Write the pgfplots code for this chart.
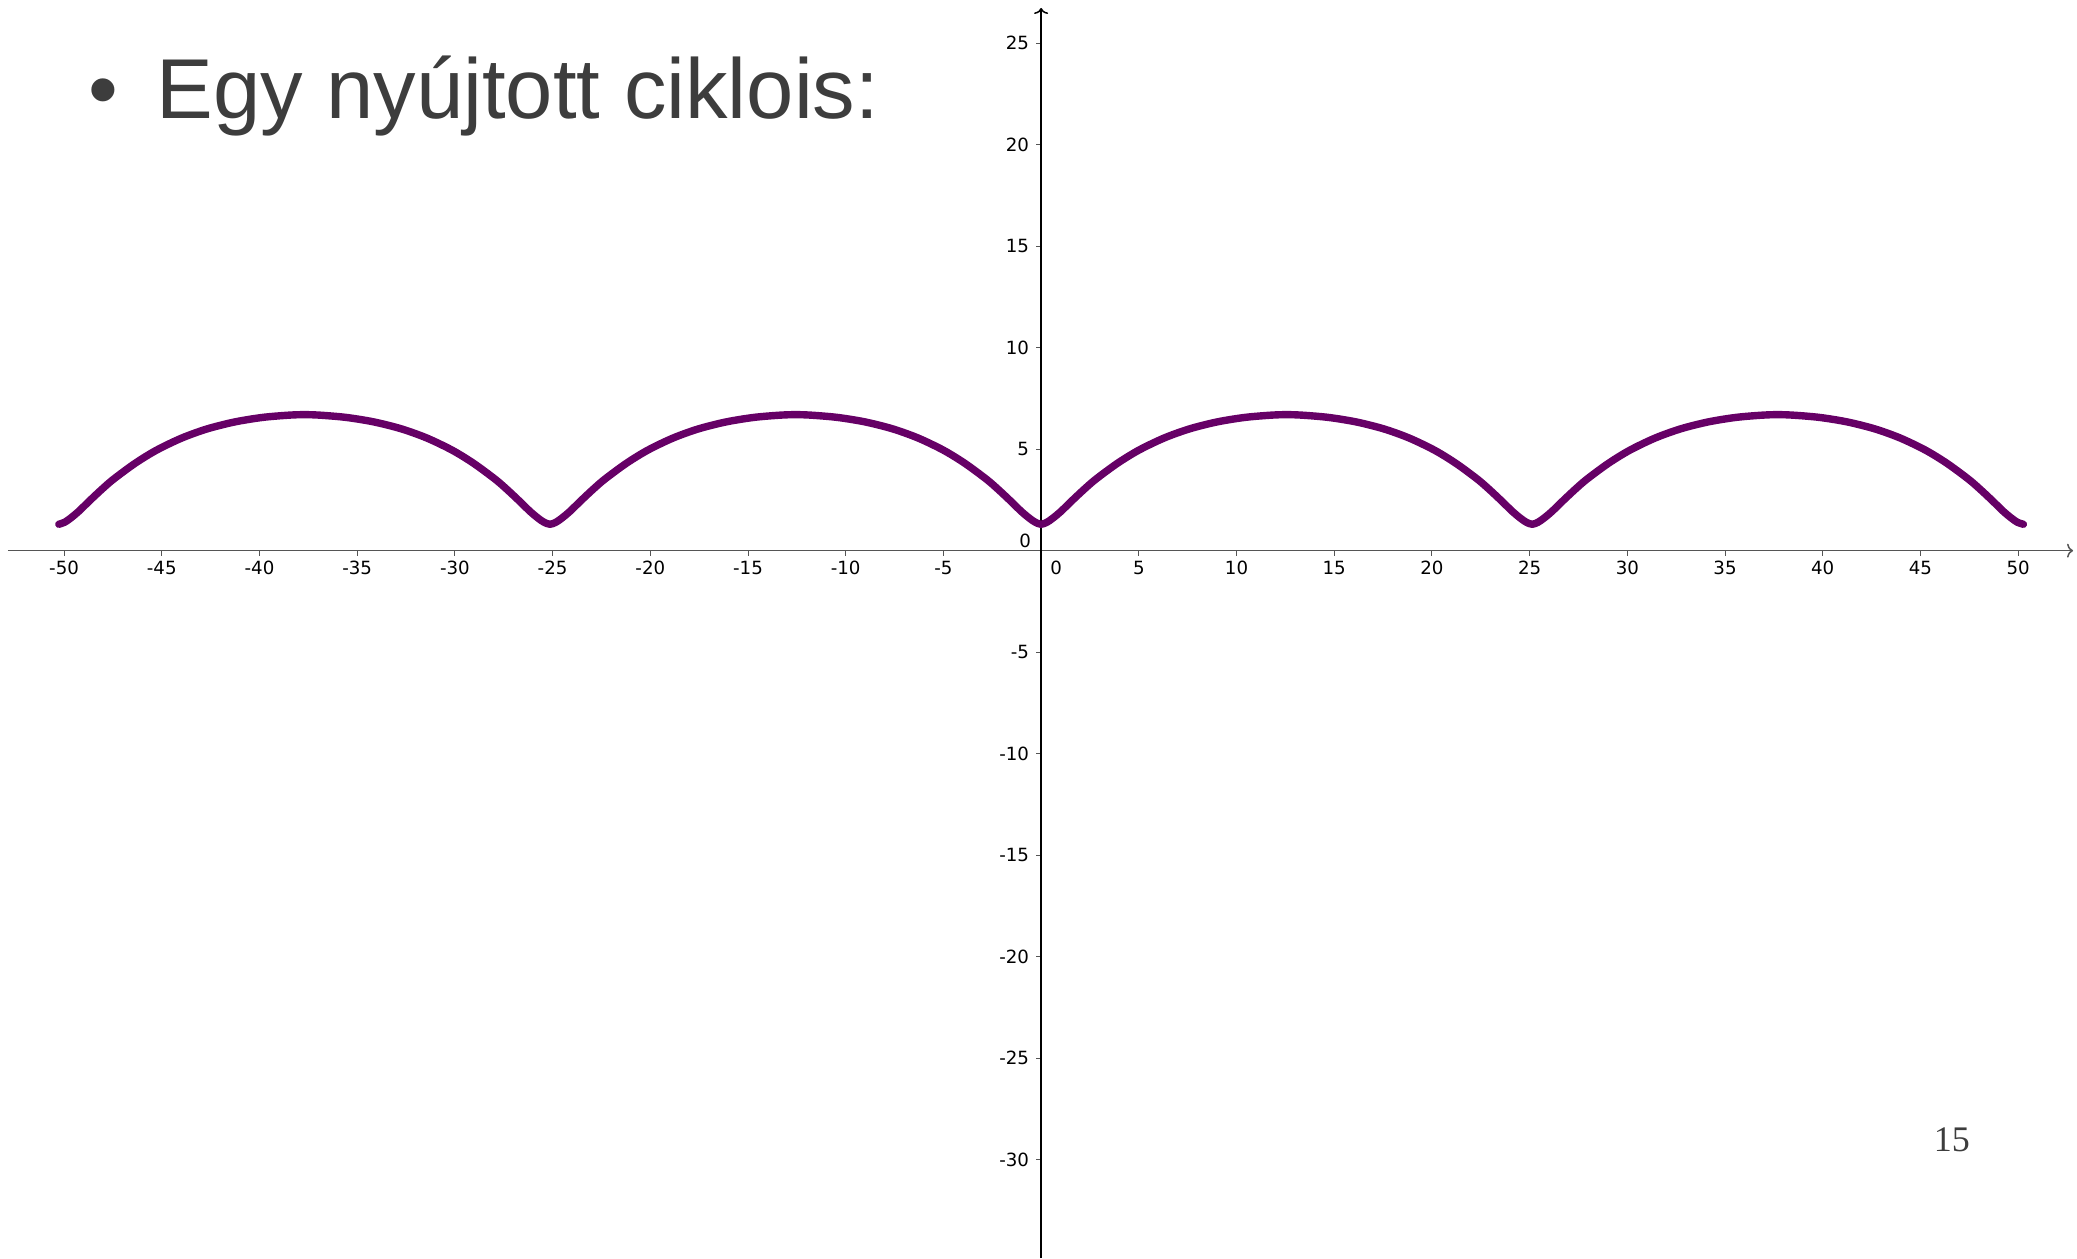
\documentclass[border=0pt]{standalone}
\usepackage{pgfplots}
\pgfplotsset{compat=1.18}
\usetikzlibrary{arrows.meta}
\usepackage{fontspec}
\setmainfont{Liberation Sans}
\newfontfamily\dejavu{DejaVu Sans}
\newfontfamily\libsans{Liberation Sans}
\newfontfamily\libserif{Liberation Serif}
\definecolor{curve}{HTML}{660066}
\definecolor{titlegray}{HTML}{3D3D3D}
\definecolor{axgray}{HTML}{555555}
\begin{document}
\begin{tikzpicture}
\useasboundingbox (0,0) rectangle (1038.5pt,629pt);
\begin{axis}[
  at={(4pt,0pt)}, anchor=south west,
  scale only axis, width=1032.5pt, height=625pt,
  xmin=-52.87, xmax=52.81, ymin=-34.84, ymax=26.73,
  axis lines=middle,
  x axis line style={draw=axgray, line width=0.75pt, -{To[length=3pt,width=7pt]}},
  y axis line style={draw=black, line width=0.75pt, -{To[length=3pt,width=7pt]}},
  xtick={-50,-45,-40,-35,-30,-25,-20,-15,-10,-5,5,10,15,20,25,30,35,40,45,50},
  xticklabels={-50,-45,-40,-35,-30,-25,-20,-15,-10,-5,5,10,15,20,25,30,35,40,45,50},
  ytick={-30,-25,-20,-15,-10,-5,5,10,15,20,25},
  yticklabels={-30,-25,-20,-15,-10,-5,5,10,15,20,25},
  tick align=outside, major tick length=2.5pt,
  tick style={draw=axgray, line width=0.5pt},
  xticklabel style={font=\dejavu\fontsize{9.1}{10}\selectfont, anchor=north, inner sep=0pt, yshift=-2.65pt, text=black},
  yticklabel style={font=\dejavu\fontsize{9.1}{10}\selectfont, anchor=east, inner sep=0pt, xshift=-3.35pt, text=black},
  clip=false,
]
\addplot[curve, line width=3.7pt, line cap=round, line join=round, smooth, tension=0.5] table {
x y
-50.27 1.30
-49.97 1.40
-49.67 1.60
-49.27 1.92
-48.67 2.48
-48.07 3.02
-47.47 3.52
-46.37 4.30
-45.27 4.95
-43.97 5.55
-42.67 6.00
-41.27 6.34
-39.87 6.56
-38.57 6.67
-37.70 6.70
-36.84 6.67
-35.54 6.56
-34.14 6.34
-32.74 6.00
-31.44 5.55
-30.14 4.95
-29.04 4.30
-27.94 3.52
-27.34 3.02
-26.74 2.48
-26.14 1.92
-25.74 1.60
-25.44 1.40
-25.13 1.30
-24.83 1.40
-24.53 1.60
-24.13 1.92
-23.53 2.48
-22.93 3.02
-22.33 3.52
-21.23 4.30
-20.13 4.95
-18.83 5.55
-17.53 6.00
-16.13 6.34
-14.73 6.56
-13.43 6.67
-12.56 6.70
-11.70 6.67
-10.40 6.56
-9.00 6.34
-7.60 6.00
-6.30 5.55
-5.00 4.95
-3.90 4.30
-2.80 3.52
-2.20 3.02
-1.60 2.48
-1.00 1.92
-0.60 1.60
-0.30 1.40
0.00 1.30
0.30 1.40
0.60 1.60
1.00 1.92
1.60 2.48
2.20 3.02
2.80 3.52
3.90 4.30
5.00 4.95
6.30 5.55
7.60 6.00
9.00 6.34
10.40 6.56
11.70 6.67
12.57 6.70
13.43 6.67
14.73 6.56
16.13 6.34
17.53 6.00
18.83 5.55
20.13 4.95
21.23 4.30
22.33 3.52
22.93 3.02
23.53 2.48
24.13 1.92
24.53 1.60
24.83 1.40
25.13 1.30
25.43 1.40
25.73 1.60
26.13 1.92
26.73 2.48
27.33 3.02
27.93 3.52
29.03 4.30
30.13 4.95
31.43 5.55
32.73 6.00
34.13 6.34
35.53 6.56
36.83 6.67
37.70 6.70
38.56 6.67
39.86 6.56
41.26 6.34
42.66 6.00
43.96 5.55
45.26 4.95
46.36 4.30
47.46 3.52
48.06 3.02
48.66 2.48
49.26 1.92
49.66 1.60
49.96 1.40
50.27 1.30
};
\node[font=\dejavu\fontsize{9.1}{10}\selectfont, inner sep=0pt, anchor=center] at (axis cs:0.77,-0.85) {0};
\node[font=\dejavu\fontsize{9.1}{10}\selectfont, inner sep=0pt, anchor=center] at (axis cs:-0.82,0.48) {0};
\end{axis}
\node[font=\libsans\fontsize{42.5}{48}\selectfont, text=titlegray, inner sep=0pt, anchor=base west] at (78pt,569.5pt) {Egy nyújtott ciklois:};
\node[font=\libsans\fontsize{42.5}{48}\selectfont, text=titlegray, inner sep=0pt, anchor=base] at (51.5pt,569.5pt) {•};
\node[font=\libserif\fontsize{18}{20}\selectfont, text=titlegray, inner sep=0pt, anchor=base] at (975.9pt,53.2pt) {15};
\end{tikzpicture}
\end{document}
